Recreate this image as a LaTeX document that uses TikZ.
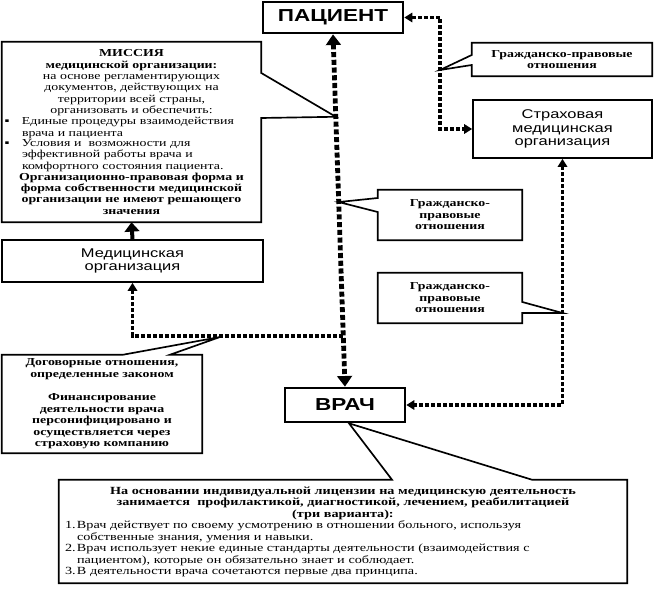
\documentclass[tikz,border=0pt]{standalone}
\usepackage{fontspec}
\setmainfont{Liberation Serif}[FakeStretch=1.3]
\newfontfamily\arialfont{Liberation Sans}[FakeStretch=1.3]
\usetikzlibrary{arrows.meta,calc}
\setlength{\parindent}{0pt}

\begin{document}
\begin{tikzpicture}[x=0.75pt,y=-0.75pt,line join=miter,
    dtip/.tip={Triangle[length=6pt,width=7pt]},
    btip/.tip={Triangle[length=8pt,width=11pt]},
    mainbox/.style={draw,line width=2pt,inner sep=0pt,
      font=\arialfont\bfseries\fontsize{13pt}{14pt}\selectfont},
    orgbox/.style={draw,line width=1.25pt,inner sep=0pt,align=center,
      font=\arialfont\fontsize{9.5pt}{10.2pt}\selectfont},
    notebox/.style={inner sep=0pt,align=center,
      font=\bfseries\fontsize{8pt}{8.6pt}\selectfont},
    textblock/.style={inner xsep=2pt,inner ysep=0pt,
      font=\fontsize{8pt}{8.5pt}\selectfont},
    outline/.style={line width=1.25pt},
    dots/.style={line width=2.6pt,dash pattern=on 3pt off 1.5pt},
    bigdots/.style={line width=3.6pt,dash pattern=on 3.8pt off 2pt}]

  \fill[white] (0,0) rectangle (654,596);
  \useasboundingbox (0,0) rectangle (654,596);

  % ---- main actors ----
  \node[mainbox,minimum width=105pt,minimum height=23.25pt] (pac) at (333,17.5) {ПАЦИЕНТ};
  \node[mainbox,minimum width=90pt,minimum height=25.5pt] (vrach) at (345,405) {ВРАЧ};

  % ---- organisations ----
  \node[orgbox,minimum width=195.75pt,minimum height=31.5pt] (medorg) at (132.5,261)
    {Медицинская\\организация};
  \node[orgbox,minimum width=134.25pt,minimum height=43.5pt] (strah) at (562.5,129)
    {Страховая\\медицинская\\организация};

  % ---- mission (callout) ----
  \node[textblock,text width=190.25pt,minimum height=135pt] (mission) at (131.5,132) {%
    {\centering\bfseries МИССИЯ\\
     медицинской организации:\\
     \mdseries на основе регламентирующих\\
     документов, действующих на\\
     территории всей страны,\\
     организовать и обеспечить:\par}
    \makebox[13pt][l]{▪}\parbox[t]{177pt}{Единые процедуры взаимодействия\\
      врача и пациента}\par
    \makebox[13pt][l]{▪}\parbox[t]{177pt}{Условия и\ \ возможности для\\
      эффективной работы врача и\\
      комфортного состояния пациента.}\par
    {\centering\bfseries Организационно-правовая форма и\\
     форма собственности медицинской\\
     организации не имеют решающего\\
     значения\par}};

  % ---- relation notes (callouts) ----
  \node[notebox,minimum width=135pt,minimum height=24.75pt] (gp1) at (562,59.5)
    {Гражданско-правовые\\отношения};
  \node[notebox,minimum width=108pt,minimum height=37.5pt] (gp2) at (450,215)
    {Гражданско-\\правовые\\отношения};
  \node[notebox,minimum width=108pt,minimum height=37.5pt] (gp3) at (450,298)
    {Гражданско-\\правовые\\отношения};
  \node[notebox,minimum width=150pt,minimum height=73.5pt,
    font=\bfseries\fontsize{8pt}{8.7pt}\selectfont] (dogovor) at (102,404)
    {Договорные отношения,\\определенные законом\\[8.7pt]
     Финансирование\\деятельности врача\\персонифицировано и\\
     осуществляется через\\страховую компанию};

  % ---- doctor's licence (callout) ----
  \node[textblock,inner xsep=3pt,text width=420pt,minimum height=77.25pt,
    font=\fontsize{8.2pt}{8.7pt}\selectfont] (basis) at (343,531.5) {%
    {\centering\bfseries На основании индивидуальной лицензии на медицинскую деятельность\\
     занимается\ \ профилактикой, диагностикой, лечением, реабилитацией\\
     (три варианта):\par}
    \hspace*{1.5pt}\makebox[9pt][l]{1.}\parbox[t]{405pt}{Врач действует по своему усмотрению в отношении больного, используя\\
      собственные знания, умения и навыки.}\par
    \hspace*{1.5pt}\makebox[9pt][l]{2.}\parbox[t]{405pt}{Врач использует некие единые стандарты деятельности (взаимодействия с\\
      пациентом), которые он обязательно знает и соблюдает.}\par
    \hspace*{1.5pt}\makebox[9pt][l]{3.}\parbox[t]{405pt}{В деятельности врача сочетаются первые два принципа.}\par};

  % ---- pointer tips ----
  \coordinate (pbend) at (440,0);
  \coordinate (mtip) at ($(pac.south)!0.234!(vrach.north)$);
  \coordinate (g2tip) at ($(pac.south)!0.476!(vrach.north)$);
  \coordinate (cross) at ($(pac.south)!0.856!(vrach.north)$);
  \coordinate (g1tip) at (pbend |- 0,70);
  \coordinate (g3tip) at (strah.south |- 0,313);
  \coordinate (dtipc) at (220,337);
  \coordinate (vtip) at ($(vrach.south)+(4,0)$);

  % callout outlines
  \draw[outline] (mission.north west) -- (mission.north east) -- (mission.east |- 0,73)
    -- (mtip) -- (mission.east |- 0,118) -- (mission.south east) -- (mission.south west) -- cycle;
  \draw[outline] (gp1.north west) -- (gp1.north east) -- (gp1.south east) -- (gp1.south west)
    -- (gp1.west |- 0,65) -- (g1tip) -- (gp1.west |- 0,55) -- cycle;
  \draw[outline] (gp2.north west) -- (gp2.north east) -- (gp2.south east) -- (gp2.south west)
    -- (gp2.west |- 0,212) -- (g2tip) -- (gp2.west |- 0,198) -- cycle;
  \draw[outline] (gp3.north west) -- (gp3.north east) -- (gp3.east |- 0,302) -- (g3tip)
    -- (gp3.east |- 0,313) -- (gp3.south east) -- (gp3.south west) -- cycle;
  \draw[outline] (dogovor.north west) -- (dogovor.north west -| 123,0) -- (dtipc)
    -- (dogovor.north west -| 170,0) -- (dogovor.north east) -- (dogovor.south east)
    -- (dogovor.south west) -- cycle;
  \draw[outline] (basis.north west) -- (basis.north west -| 392,0) -- (vtip)
    -- (basis.north west -| 532,0) -- (basis.north east) -- (basis.south east)
    -- (basis.south west) -- cycle;

  % ---- connectors ----
  \draw[line width=3pt,-{Triangle[length=7pt,width=11pt]}] (medorg.north) -- (mission.south);
  \draw[dots,dtip-] (medorg.south) |- (cross);
  \draw[dots,dtip-dtip] (pac.east) -| (pbend |- strah.west) -- (strah.west);
  \draw[dots,dtip-dtip] (strah.south) |- (vrach.east);
  \draw[bigdots,btip-btip] (pac.south) -- (vrach.north);
\end{tikzpicture}
\end{document}
